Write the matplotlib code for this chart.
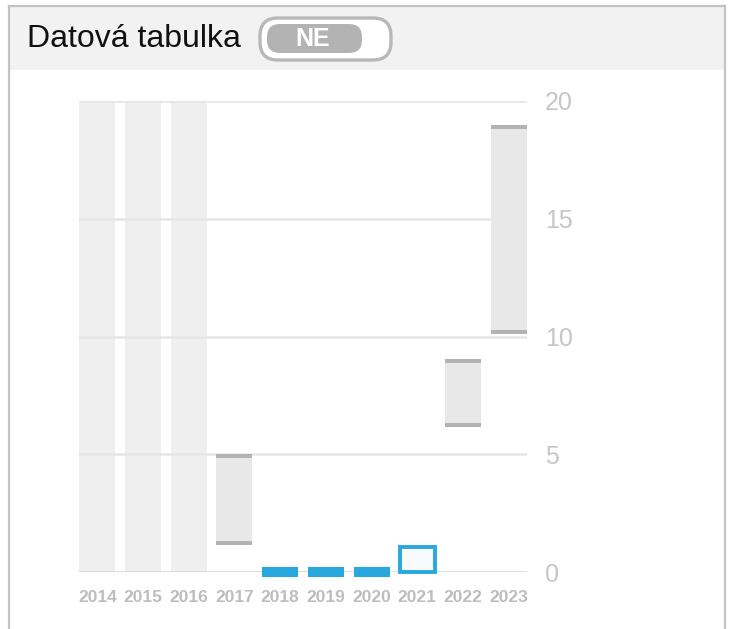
import numpy as np
import matplotlib.pyplot as plt
from matplotlib.patches import FancyBboxPatch, Rectangle

# data
years = ["2014", "2015", "2016", "2017", "2018", "2019", "2020", "2021", "2022", "2023"]
nan = np.nan
range_low = [nan, nan, nan, 1.15, nan, nan, nan, nan, 6.15, 10.1]
range_high = [nan, nan, nan, 5.0, nan, nan, nan, nan, 9.05, 19.0]
actual = [nan, nan, nan, nan, 0, 0, 0, nan, nan, nan]
estimate = [nan, nan, nan, nan, nan, nan, nan, 1.05, nan, nan]
no_data = [True, True, True, False, False, False, False, False, False, False]
y_ticks = [0, 5, 10, 15, 20]

W, H = 737, 629
fig = plt.figure(figsize=(W / 100, H / 100), dpi=100)

# background layer in pixel coordinates
bg = fig.add_axes([0, 0, 1, 1])
bg.set_xlim(0, W)
bg.set_ylim(H, 0)
bg.axis("off")
bg.add_patch(Rectangle((9, 6), 716, 64, facecolor="#f2f2f2", edgecolor="none"))
bg.plot([9, 9], [6, H], color="#c3c3c3", lw=1.6)
bg.plot([725, 725], [6, H], color="#c3c3c3", lw=1.6)
bg.plot([9, 725], [6, 6], color="#c3c3c3", lw=1.6)
bg.text(27, 47, "Datová tabulka", fontsize=23, family="Liberation Sans",
        color="#111111", ha="left", va="baseline")
bg.add_patch(FancyBboxPatch((260, 18), 131, 42, boxstyle="round,pad=0,rounding_size=18",
                            facecolor="white", edgecolor="#b8b8b8", lw=2.4))
bg.add_patch(FancyBboxPatch((267, 24), 95, 29, boxstyle="round,pad=0,rounding_size=13",
                            facecolor="#b3b3b3", edgecolor="none"))
bg.text(313, 39, "NE", fontsize=18, family="Liberation Sans", weight="bold",
        color="white", ha="center", va="center")

# chart
ax = fig.add_axes([79 / W, (H - 572) / H, (527 - 79) / W, (572 - 101) / H])
ax.patch.set_alpha(0)
x = np.arange(len(years))
bw = 0.79
ax.set_xlim(-0.4, len(years) - 0.6)
ax.set_ylim(0, 20)

for i in x:
    if no_data[i]:
        ax.bar(i, 20, width=bw, color="#efefef", zorder=0)

for t in y_ticks:
    ax.axhline(t, color="#d2d2d2" if t == 0 else "#e6e6e6", lw=1.8, zorder=1)

lo = np.array(range_low)
hi = np.array(range_high)
for i in x:
    if np.isnan(lo[i]):
        continue
    ax.bar(i, hi[i] - lo[i], bottom=lo[i], width=bw, color="#e8e8e8", zorder=2)
    ax.bar(i, 0.17, bottom=hi[i] - 0.17, width=bw, color="#b3b3b3", zorder=3)
    ax.bar(i, 0.17, bottom=lo[i], width=bw, color="#b3b3b3", zorder=3)

act = np.array(actual)
for i in x:
    if not np.isnan(act[i]):
        ax.bar(i, 0.42, bottom=act[i] - 0.21, width=bw, color="#29a8e0",
               zorder=4, clip_on=False)

est = np.array(estimate)
for i in x:
    if not np.isnan(est[i]):
        ax.bar(i, est[i], width=bw * 0.96, facecolor="#f7fbfd", edgecolor="#29a8e0",
               lw=2.8, zorder=4, clip_on=False)

for s in ax.spines.values():
    s.set_visible(False)
ax.set_xticks(x)
ax.set_xticklabels(years)
ax.set_yticks(y_ticks)
ax.yaxis.tick_right()
ax.tick_params(axis="both", length=0)
ax.tick_params(axis="y", pad=13, labelsize=18, labelcolor="#c6c6c6")
ax.tick_params(axis="x", pad=13, labelsize=12.5, labelcolor="#bdbdbd")
for lab in ax.get_yticklabels():
    lab.set_family("Liberation Sans")
for lab in ax.get_xticklabels():
    lab.set_family("Liberation Sans")
    lab.set_weight("bold")

fig.savefig("out.png", dpi=100)
